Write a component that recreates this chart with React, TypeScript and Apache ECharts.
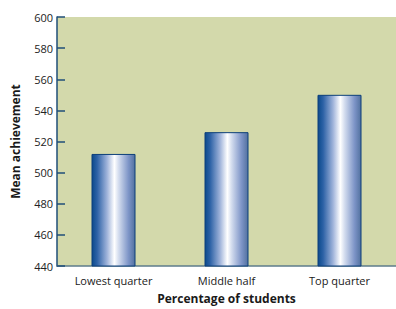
import React, { useEffect, useRef } from "react";
import * as echarts from "echarts";

const categories = ["Lowest quarter", "Middle half", "Top quarter"];
const meanAchievement = [512, 526, 550];
const yMin = 440;
const yMax = 600;
const yInterval = 20;

export default function App() {
  const ref = useRef<HTMLDivElement>(null);
  useEffect(() => {
    if (!ref.current) return;
    const chart = echarts.init(ref.current, undefined, { renderer: "svg" });
    const font = "'Open Sans', 'Noto Sans', sans-serif";
    const barGrad = new echarts.graphic.LinearGradient(0, 0, 1, 0, [
      { offset: 0, color: "#0b4a8c" },
      { offset: 0.12, color: "#2d62a6" },
      { offset: 0.35, color: "#9fb3da" },
      { offset: 0.52, color: "#ffffff" },
      { offset: 0.62, color: "#d3dcee" },
      { offset: 0.85, color: "#7d94c7" },
      { offset: 1, color: "#52719f" },
    ]);
    chart.setOption({
      animation: false,
      grid: {
        left: 57,
        right: -9,
        top: 17,
        bottom: 40,
        show: true,
        backgroundColor: "#d3d9ab",
        borderWidth: 0,
      },
      xAxis: {
        type: "category",
        data: categories,
        name: "Percentage of students",
        nameLocation: "middle",
        nameGap: 26,
        nameTextStyle: { fontFamily: font, fontWeight: "bold", fontSize: 12, color: "#1a1a1a" },
        axisLine: { lineStyle: { color: "#5e7c8c", width: 1.5 } },
        axisTick: { show: false },
        axisLabel: { fontFamily: font, fontSize: 11, color: "#1a1a1a", margin: 9 },
      },
      yAxis: {
        type: "value",
        min: yMin,
        max: yMax,
        interval: yInterval,
        name: "Mean achievement",
        nameLocation: "middle",
        nameGap: 36,
        nameTextStyle: { fontFamily: font, fontWeight: "bold", fontSize: 12, color: "#1a1a1a" },
        axisLine: { show: true, lineStyle: { color: "#1f4e79", width: 1.5 } },
        axisTick: { show: true, inside: true, length: 8, lineStyle: { color: "#1f4e79", width: 1.5 } },
        axisLabel: { fontFamily: font, fontSize: 11, color: "#222", margin: 4 },
        splitLine: { show: false },
      },
      series: [
        {
          type: "bar",
          data: meanAchievement,
          barWidth: 44,
          itemStyle: { color: barGrad, borderColor: "#0c3f7a", borderWidth: 1 },
        },
      ],
    });
    return () => chart.dispose();
  }, []);
  return (
    <div
      ref={ref}
      style={{ position: "fixed", left: 0, top: 0, width: 396, height: 309, background: "#fff" }}
    />
  );
}
